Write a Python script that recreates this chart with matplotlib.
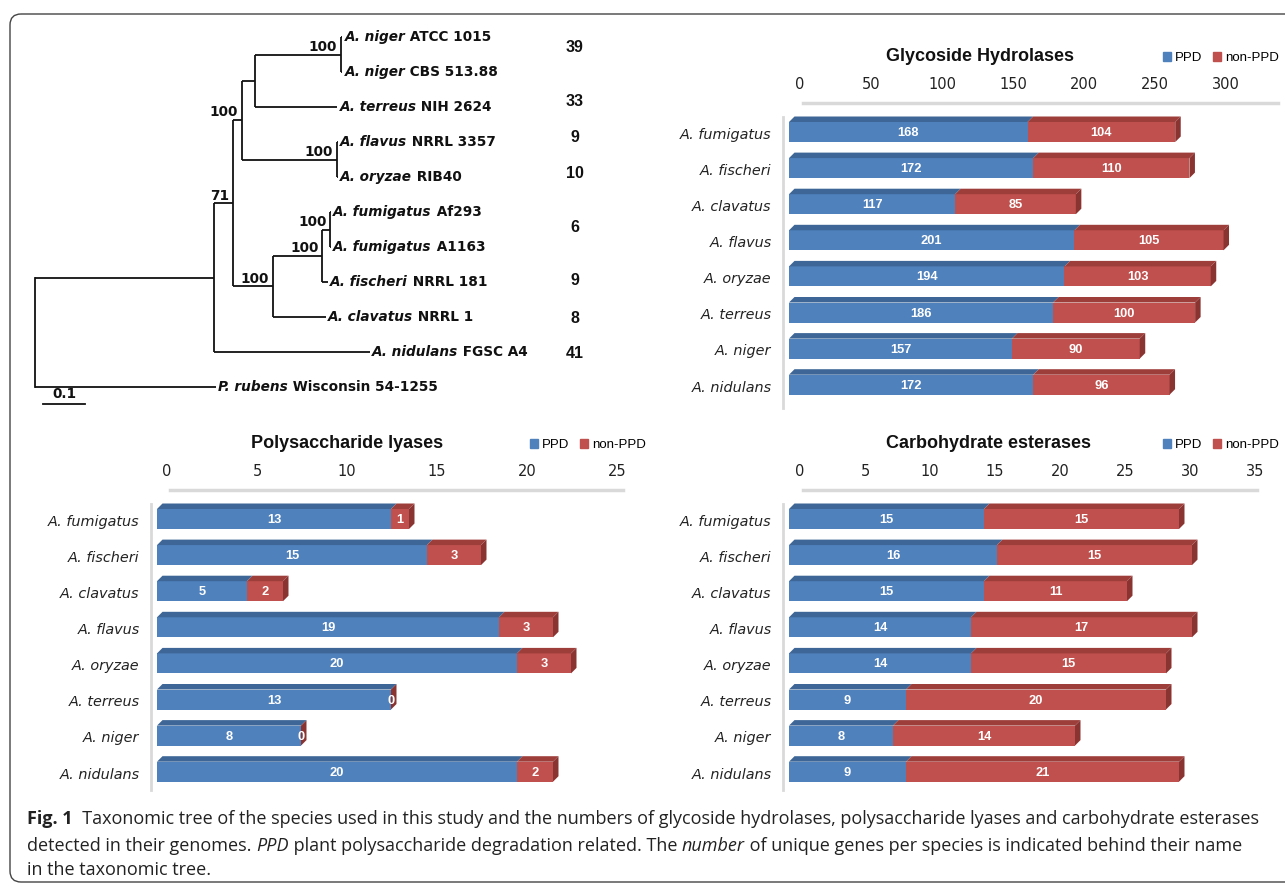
import matplotlib
matplotlib.use('Agg')
import matplotlib.pyplot as plt
from matplotlib.patches import Polygon, Patch, FancyBboxPatch
import numpy as np

W, H = 1285, 886

# ---- data ----
species = ['A. fumigatus', 'A. fischeri', 'A. clavatus', 'A. flavus',
           'A. oryzae', 'A. terreus', 'A. niger', 'A. nidulans']
gh_ppd = [168, 172, 117, 201, 194, 186, 157, 172]
gh_non = [104, 110, 85, 105, 103, 100, 90, 96]
pl_ppd = [13, 15, 5, 19, 20, 13, 8, 20]
pl_non = [1, 3, 2, 3, 3, 0, 0, 2]
ce_ppd = [15, 16, 15, 14, 14, 9, 8, 9]
ce_non = [15, 15, 11, 17, 15, 20, 14, 21]
gh_ticks = [0, 50, 100, 150, 200, 250, 300]
pl_ticks = [0, 5, 10, 15, 20, 25]
ce_ticks = [0, 5, 10, 15, 20, 25, 30, 35]

# tree: (support, branch length, children) or (genus, strain, branch length)
tree = ('', 0.0, [
    ('', 0.426, [
        ('71', 0.045, [
            ('100', 0.021, [
                ('', 0.031, [
                    ('100', 0.205, [('A. niger', 'ATCC 1015', 0.004),
                                    ('A. niger', 'CBS 513.88', 0.004)]),
                    ('A. terreus', 'NIH 2624', 0.197)]),
                ('100', 0.226, [('A. flavus', 'NRRL 3357', 0.004),
                                ('A. oryzae', 'RIB40', 0.004)])]),
            ('100', 0.095, [
                ('100', 0.117, [
                    ('100', 0.019, [('A. fumigatus', 'Af293', 0.003),
                                    ('A. fumigatus', 'A1163', 0.003)]),
                    ('A. fischeri', 'NRRL 181', 0.015)]),
                ('A. clavatus', 'NRRL 1', 0.127)])]),
        ('A. nidulans', 'FGSC A4', 0.372)]),
    ('P. rubens', 'Wisconsin 54-1255', 0.431)])

unique_genes = ['39', '33', '9', '10', '6', '9', '8', '41']
unique_rows = [0.29, 1.83, 2.86, 3.89, 5.43, 6.97, 8.03, 9.03]

blue, blue_top = '#4F81BD', '#3E6797'
red, red_top, red_side = '#C0504D', '#9E3E3B', '#8A3432'
gray = '#D9D9D9'

fig = plt.figure(figsize=(W / 100, H / 100), dpi=100)


def px_axes(x0, y0, x1, y1):
    return fig.add_axes([x0 / W, 1 - y1 / H, (x1 - x0) / W, (y1 - y0) / H])


def rich(ax, x, y, parts, **kw):
    # chain text pieces with different styles on one line
    t = ax.text(x, y, parts[0][0], va='baseline', **kw, **parts[0][1])
    for s, st in parts[1:]:
        t = ax.annotate(s, xy=(1, 0), xycoords=t, va='bottom', ha='left',
                        **kw, **st)
    return t


bg = px_axes(0, 0, W, H)
bg.set_xlim(0, W)
bg.set_ylim(H, 0)
bg.axis('off')
bg.add_patch(FancyBboxPatch((10, 14), 1300, 868, boxstyle='round,pad=0,rounding_size=11',
                            fc='none', ec='#444444', lw=1.0))

# ---- tree ----
tx0, tk = 35, 420.0      # root px, px per unit branch length
ty0, tdy = 37, 35.0      # first leaf px, px per leaf
ax_t = px_axes(0, 20, 640, 410)
ax_t.set_xlim(-tx0 / tk, (640 - tx0) / tk)
ax_t.set_ylim((410 - ty0) / tdy, (20 - ty0) / tdy)
ax_t.axis('off')

tfont = dict(family='DejaVu Sans', fontweight='bold', fontsize=9.8, color='#111111')
leaf_count = [0]


def draw(node, xpar):
    if len(node) == 3 and isinstance(node[2], list):
        sup, bl, kids = node
        x = xpar + bl
        ys = [draw(k, x) for k in kids]
        y = (ys[0] + ys[-1]) / 2
        ax_t.plot([x, x], [ys[0], ys[-1]], color='#111111', lw=1.3, solid_capstyle='butt')
        if sup:
            ax_t.annotate(sup, (x, y), xytext=(-2.5, 0.5), textcoords='offset points',
                          ha='right', va='bottom', **tfont)
    else:
        genus, strain, bl = node
        x = xpar + bl
        y = leaf_count[0]
        leaf_count[0] += 1
        t = ax_t.annotate(genus, (x, y), xytext=(1.5, 0), textcoords='offset points',
                          ha='left', va='center', style='italic', **tfont)
        ax_t.annotate(' ' + strain, xy=(1, 0), xycoords=t, va='bottom', ha='left', **tfont)
    ax_t.plot([xpar, x], [y, y], color='#111111', lw=1.3, solid_capstyle='butt')
    return y


root_sup, _, root_kids = tree
ys = [draw(k, 0.0) for k in root_kids]
ax_t.plot([0, 0], [ys[0], ys[-1]], color='#111111', lw=1.3)

for n, r in zip(unique_genes, unique_rows):
    ax_t.text((575 - tx0) / tk, r, n, ha='center', va='center', fontsize=11.5,
              fontweight='bold', family='Liberation Sans', color='#111111')

ax_t.plot([0.02, 0.12], [10.49, 10.49], color='#111111', lw=1.3)
ax_t.text(0.07, 10.4, '0.1', ha='center', va='bottom', **tfont)


# ---- bar panels ----
def panel(ppd, non, ticks, x0, k, xr, y_first, y_top, y_bot, shift, line_end,
          title, tx, leg_x, ty):
    row = 36.1
    ax = px_axes(x0, y_top, xr, y_bot)
    ax.set_xlim(0, (xr - x0) / k)
    ax.set_ylim((y_bot - y_first) / row, (y_top - y_first) / row)
    rows = np.arange(len(species))
    h = 20 / row
    ax.barh(rows, ppd, height=h, color=blue, zorder=3)
    ax.barh(rows, non, left=ppd, height=h, color=red, zorder=3)
    dx, dy = 5.5 / k, 5.5 / row
    lab = dict(ha='center', va='center', color='white', fontsize=9.3, fontweight='bold',
               family='Liberation Sans', zorder=4)
    for r, a, b in zip(rows, ppd, non):
        top = r - h / 2
        end = a + b
        ax.add_patch(Polygon([(0, top), (a, top), (a + dx, top - dy), (dx, top - dy)],
                             closed=True, fc=blue_top, ec='none', zorder=3))
        ax.add_patch(Polygon([(a, top), (end, top), (end + dx, top - dy), (a + dx, top - dy)],
                             closed=True, fc=red_top, ec='none', zorder=3))
        ax.add_patch(Polygon([(end, top), (end + dx, top - dy), (end + dx, top + h - dy),
                              (end, top + h)], closed=True, fc=red_side, ec='none', zorder=3))
        ax.text(a / 2, r + 0.03, str(a), **lab)
        ax.text(a + b / 2, r + 0.03, str(b), **lab)
    s = shift / k
    ax.set_xticks(np.array(ticks) + s, labels=[str(t) for t in ticks])
    ax.xaxis.tick_top()
    ax.tick_params(axis='x', length=0, pad=8, labelsize=10.5, labelcolor='#222222')
    ax.set_yticks([])
    for r, name in zip(rows, species):
        ax.annotate(name, xy=(0, r + 0.08), xycoords=('axes fraction', 'data'),
                    xytext=(-12.5, 0), textcoords='offset points', ha='right', va='center',
                    fontsize=10.4, style='italic', family='DejaVu Sans', color='#222222')
    for sp in ['right', 'bottom']:
        ax.spines[sp].set_visible(False)
    ax.spines['top'].set_color(gray)
    ax.spines['top'].set_linewidth(2.5)
    ax.spines['top'].set_bounds(s + 3 / k, (line_end - x0) / k)
    ax.spines['left'].set_color(gray)
    ax.spines['left'].set_linewidth(2)
    ax.spines['left'].set_position(('outward', 4))
    ax.spines['left'].set_bounds((y_top - y_first + 14) / row, (y_bot - y_first - 2) / row)
    ax.set_facecolor('none')
    bg.text(tx, ty, title, ha='center', va='center', fontsize=13, fontweight='bold',
            family='Liberation Sans', color='#111111')
    fig.legend(handles=[Patch(color=blue, label='PPD'), Patch(color=red, label='non-PPD')],
               loc='center left', bbox_to_anchor=(leg_x, ty + 2), bbox_transform=bg.transData,
               ncol=2, frameon=False, handlelength=0.6, handleheight=0.6, handletextpad=0.3,
               columnspacing=0.8, borderpad=0, borderaxespad=0,
               prop=dict(family='Liberation Sans', size=9.5))
    return ax


panel(gh_ppd, gh_non, gh_ticks, 789, 1.42, 1282, 132, 103, 410, 11, 1278,
      'Glycoside Hydrolases', 980, 1163, 56)
panel(pl_ppd, pl_non, pl_ticks, 157, 18.0, 640, 519, 490, 792, 10, 623,
      'Polysaccharide lyases', 347, 530, 443)
panel(ce_ppd, ce_non, ce_ticks, 789, 13.0, 1282, 519, 490, 792, 11, 1257,
      'Carbohydrate esterases', 988, 1163, 443)

# ---- caption ----
cap = dict(family='Open Sans', fontsize=13, color='#222222')
rich(bg, 27, 824, [('Fig. 1', dict(fontweight='bold')),
                   ('  Taxonomic tree of the species used in this study and the numbers of '
                    'glycoside hydrolases, polysaccharide lyases and carbohydrate esterases', {})],
     **cap)
rich(bg, 27, 851, [('detected in their genomes. ', {}), ('PPD', dict(style='italic')),
                   (' plant polysaccharide degradation related. The ', {}),
                   ('number', dict(style='italic')),
                   (' of unique genes per species is indicated behind their name', {})], **cap)
rich(bg, 27, 875, [('in the taxonomic tree.', {})], **cap)

fig.savefig('out.png', dpi=100)
